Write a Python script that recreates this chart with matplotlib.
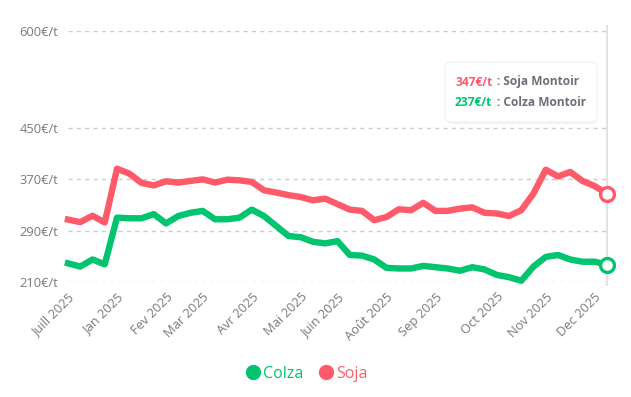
# soja / colza prices, Montoir

import numpy as np
import matplotlib.pyplot as plt
from matplotlib.patches import FancyBboxPatch

plt.rcParams['font.family'] = ['Open Sans', 'DejaVu Sans']

# weekly prices in €/t (45 points)
soja = [307, 303, 313, 302.5, 386, 378.5, 364, 360, 366.5, 364.5,
        367, 369.5, 364.5, 369, 368, 365.5, 352.5, 349, 345, 342,
        337, 339.5, 331, 322.5, 320.5, 306, 311, 323, 321.5, 333,
        320.5, 320.5, 324, 326, 317.5, 316.5, 312.5, 321.5, 347.5, 384.5,
        374, 381, 367, 359, 347]
colza = [239, 234, 245, 237.5, 310, 309, 309, 315.5, 301, 312.5,
         317.5, 320.5, 307.5, 307.5, 310, 322.5, 312.5, 297, 281.5, 279.5,
         272.5, 270, 273.5, 252, 251, 245, 232, 231, 231, 235,
         233, 231, 227.5, 233, 229.5, 221, 217.5, 212, 234, 249,
         252, 245, 241.5, 241.5, 237]

# category labels and the index where they sit
tick_idx = [0, 4, 8, 11, 15, 19, 22, 26, 30, 35, 39, 43]
tick_labels = ['Juill 2025', 'Jan 2025', 'Fev 2025', 'Mar 2025', 'Avr 2025', 'Mai 2025',
               'Juin 2025', 'Août 2025', 'Sep 2025', 'Oct 2025', 'Nov 2025', 'Dec 2025']
y_ticks = [210, 290, 370, 450, 600]

red = '#FF5A6A'
green = '#00C46E'
grey_txt = '#7a7a7a'

fig = plt.figure(figsize=(6.31, 3.97), dpi=100)
ax = fig.add_axes([68/631, 115/397, (607-68)/631, (282-31)/397])

x = np.arange(len(soja))
ax.plot(x, colza, color=green, lw=4.6, solid_joinstyle='round', clip_on=False, label='Colza', zorder=3)
ax.plot(x, soja, color=red, lw=4.6, solid_joinstyle='round', clip_on=False, label='Soja', zorder=3)

# end markers
ax.plot(x[-1], soja[-1], 'o', ms=10, mfc='white', mec=red, mew=2.4, clip_on=False, zorder=4)
ax.plot(x[-1], colza[-1], 'o', ms=10, mfc='white', mec=green, mew=2.4, clip_on=False, zorder=4)

# crosshair
ax.axvline(x[-1], color='#e2e2e2', lw=1.5, zorder=1, ymin=-0.01, ymax=1.02, clip_on=False)

ax.set_xlim(0, len(soja) - 1)
ax.set_ylim(210, 600)
ax.set_yticks(y_ticks)
ax.set_yticklabels([f'{v}€/t' for v in y_ticks], color=grey_txt, fontsize=9.3)
ax.set_xticks(tick_idx)
ax.set_xticklabels(tick_labels, rotation=45, ha='right', rotation_mode='anchor',
                   color=grey_txt, fontsize=9.3)
ax.tick_params(length=0, axis='y', pad=7)
ax.tick_params(length=0, axis='x', pad=6)
ax.grid(axis='y', color='#cccccc', ls=(0, (3, 3)), lw=1)
ax.set_axisbelow(True)
for s in ax.spines.values():
    s.set_visible(False)

# legend
leg = fig.legend(handles=[
    plt.Line2D([], [], marker='o', ls='', ms=10, color=green, label='Colza'),
    plt.Line2D([], [], marker='o', ls='', ms=10, color=red, label='Soja')],
    loc='center', bbox_to_anchor=(0.485, 1 - 374/397), ncol=2, frameon=False,
    fontsize=11.5, handletextpad=0.15, columnspacing=0.9, handlelength=1.0)
for t, c in zip(leg.get_texts(), [green, red]):
    t.set_color(c)

# tooltip box
shadow = FancyBboxPatch((447/631, 1 - 124/397), 150/631, 60/397,
                        boxstyle='round,pad=0.0,rounding_size=0.012',
                        transform=fig.transFigure, fc='#e6e6f0', ec='none', alpha=0.6, zorder=5)
box = FancyBboxPatch((445/631, 1 - 122/397), 152/631, 60/397,
                     boxstyle='round,pad=0.0,rounding_size=0.012',
                     transform=fig.transFigure, fc='white', ec='#f0f0f5', lw=0.8, zorder=6)
fig.patches.extend([shadow, box])
fig.text(455/631, 1 - 82/397, f'{soja[-1]:.0f}€/t', color=red, fontsize=8.6, fontweight='bold',
         va='center', zorder=7)
fig.text(497/631, 1 - 82/397, ': Soja Montoir', color='#6e6e78', fontsize=8.6, fontweight='bold',
         va='center', zorder=7)
fig.text(455/631, 1 - 102/397, f'{colza[-1]:.0f}€/t', color=green, fontsize=8.6, fontweight='bold',
         va='center', zorder=7)
fig.text(497/631, 1 - 102/397, ': Colza Montoir', color='#6e6e78', fontsize=8.6, fontweight='bold',
         va='center', zorder=7)

plt.savefig('out.png', dpi=100)
plt.close()
